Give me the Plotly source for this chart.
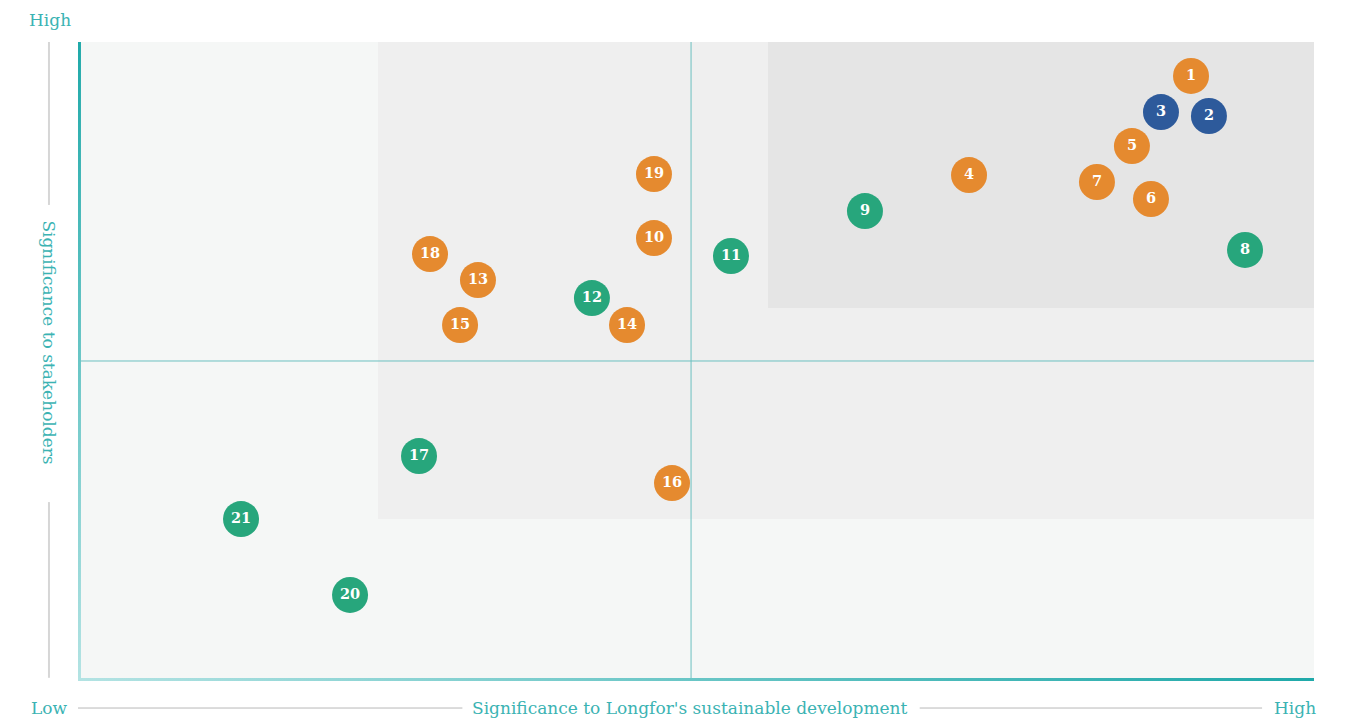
import plotly.graph_objects as go

# ---- data ----
labels = [str(i) for i in range(1, 22)]
x_vals = [90.05, 91.50, 87.62, 72.09, 85.27, 86.81, 82.44, 94.42, 63.67, 46.60,
          52.83, 41.58, 32.36, 44.42, 30.91, 48.06, 27.59, 28.48, 46.60, 22.01, 13.19]
y_vals = [94.68, 88.42, 89.04, 79.18, 83.72, 75.43, 78.09, 67.45, 73.55, 69.32,
          66.51, 59.93, 62.75, 55.71, 55.71, 30.98, 35.21, 66.82, 79.34, 13.46, 25.35]
groups = ["o", "b", "b", "o", "o", "o", "o", "g", "g", "o",
          "g", "g", "o", "o", "o", "o", "g", "o", "o", "g", "g"]
group_colors = {"o": "#e58a2f", "b": "#2d5a9b", "g": "#27a67c"}

x_title = "Significance to Longfor's sustainable development"
y_title = "Significance to stakeholders"
low_label, high_label = "Low", "High"

# zone boundaries (data units)
mid_zone = (24.27, 25.35)   # x0, y1 of medium zone
top_zone = (55.83, 58.37)   # x0, y0 of high zone
cross = (49.6, 50.08)

TEAL = "#3bb3b3"
FONT = "DejaVu Serif"
FS = 17

DARK, LIGHT = "#1fa9a9", "#b3e3e3"

fig = go.Figure()
# gradient axis lines (thin filled strips)
fig.add_trace(go.Scatter(
    x=[0, 0.24, 0.24, 0, 0], y=[0, 0, 100, 100, 0], mode="none", fill="toself",
    fillgradient=dict(type="vertical", colorscale=[[0, LIGHT], [1, DARK]]),
    hoverinfo="skip", showlegend=False,
))
fig.add_trace(go.Scatter(
    x=[0, 100, 100, 0, 0], y=[0, 0, 0.47, 0.47, 0], mode="none", fill="toself",
    fillgradient=dict(type="horizontal", colorscale=[[0, LIGHT], [1, DARK]]),
    hoverinfo="skip", showlegend=False,
))
fig.add_trace(go.Scatter(
    x=x_vals, y=y_vals, mode="markers+text", text=labels,
    textposition="middle center",
    textfont=dict(family=FONT, size=14.5, color="white", weight="bold"),
    marker=dict(size=36, color=[group_colors[g] for g in groups],
                line=dict(width=0)),
    hoverinfo="skip", showlegend=False, cliponaxis=False,
))

shapes = []
# zones
shapes.append(dict(type="rect", xref="x", yref="y", x0=mid_zone[0], x1=100,
                   y0=mid_zone[1], y1=100, fillcolor="#efefef", line=dict(width=0), layer="below"))
shapes.append(dict(type="rect", xref="x", yref="y", x0=top_zone[0], x1=100,
                   y0=top_zone[1], y1=100, fillcolor="#e5e5e5", line=dict(width=0), layer="below"))
# cross lines
shapes.append(dict(type="line", xref="x", yref="y", x0=cross[0], x1=cross[0], y0=0, y1=100,
                   line=dict(color="#6cc0c0", width=1), layer="below"))
shapes.append(dict(type="line", xref="x", yref="y", x0=0, x1=100, y0=cross[1], y1=cross[1],
                   line=dict(color="#6cc0c0", width=1), layer="below"))

# gray guide lines outside plot
gray = dict(color="#d6d6d6", width=2)
shapes.append(dict(type="line", xref="paper", yref="paper", x0=-0.0235, x1=-0.0235, y0=0.745, y1=1.0, line=gray))
shapes.append(dict(type="line", xref="paper", yref="paper", x0=-0.0235, x1=-0.0235, y0=0.005, y1=0.28, line=gray))
gray2 = dict(color="#b8b8b8", width=1)
shapes.append(dict(type="line", xref="paper", yref="paper", x0=0.0, x1=0.311, y0=-0.0423, y1=-0.0423, line=gray2))
shapes.append(dict(type="line", xref="paper", yref="paper", x0=0.681, x1=0.958, y0=-0.0423, y1=-0.0423, line=gray2))

tf = dict(family=FONT, size=FS, color=TEAL)
annotations = [
    dict(text=x_title, xref="paper", yref="paper", x=0.495, y=-0.0423, showarrow=False,
         font=tf, xanchor="center", yanchor="middle"),
    dict(text=y_title, xref="paper", yref="paper", x=-0.0235, y=0.53, showarrow=False, textangle=90,
         font=tf, xanchor="center", yanchor="middle"),
    dict(text=low_label, xref="paper", yref="paper", x=-0.0227, y=-0.0423, showarrow=False,
         font=tf, xanchor="center", yanchor="middle"),
    dict(text=high_label, xref="paper", yref="paper", x=0.985, y=-0.0423, showarrow=False,
         font=tf, xanchor="center", yanchor="middle"),
    dict(text=high_label, xref="paper", yref="paper", x=-0.0227, y=1.034, showarrow=False,
         font=tf, xanchor="center", yanchor="middle"),
]

fig.update_layout(
    width=1352, height=719,
    margin=dict(l=78, r=38, t=42, b=38),
    paper_bgcolor="white", plot_bgcolor="#f5f7f6",
    xaxis=dict(range=[0, 100], showgrid=False, zeroline=False, showticklabels=False,
               ticks="", fixedrange=True),
    yaxis=dict(range=[0, 100], showgrid=False, zeroline=False, showticklabels=False,
               ticks="", fixedrange=True),
    shapes=shapes, annotations=annotations,
)

fig.write_html("out.html")
